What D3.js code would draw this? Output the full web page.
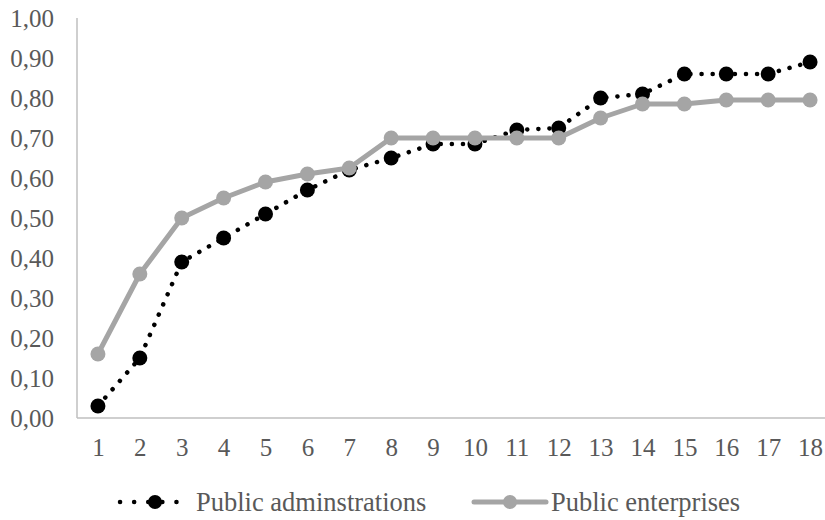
<html>
<head>
  <script src="https://cdnjs.cloudflare.com/ajax/libs/d3/7.8.5/d3.min.js"></script>
  <style>
    body { margin: 0; background: #fff; }
    .axis text { font-family: "Liberation Serif", serif; font-size: 25px; fill: #595959; }
    .axis path { stroke: #bfbfbf; stroke-width: 1.5; }
    .axis line { display: none; }
    .legend text { font-family: "Liberation Serif", serif; font-size: 26.5px; fill: #595959; }
  </style>
</head>
<body>
<div id="chart"></div>
<script>
  // data
  var categories = [1, 2, 3, 4, 5, 6, 7, 8, 9, 10, 11, 12, 13, 14, 15, 16, 17, 18];
  var adminValues = [0.03, 0.15, 0.39, 0.45, 0.51, 0.57, 0.62, 0.65, 0.685, 0.685, 0.72, 0.725, 0.80, 0.81, 0.86, 0.86, 0.86, 0.89];
  var enterpriseValues = [0.16, 0.36, 0.50, 0.55, 0.59, 0.61, 0.625, 0.70, 0.70, 0.70, 0.70, 0.70, 0.75, 0.785, 0.785, 0.795, 0.795, 0.795];
  var yTicks = [0, 0.1, 0.2, 0.3, 0.4, 0.5, 0.6, 0.7, 0.8, 0.9, 1.0];
  var seriesNames = ["Public adminstrations", "Public enterprises"];

  var svgWidth = 825, svgHeight = 520;
  var svg = d3.select("#chart").append("svg")
    .attr("width", svgWidth)
    .attr("height", svgHeight);

  var xScale = d3.scalePoint()
    .domain(categories)
    .range([77, 831])
    .padding(0.5);
  var yScale = d3.scaleLinear()
    .domain([0, 1])
    .range([418, 18]);

  var fmt = function(d) { return d3.format(".2f")(d).replace(".", ","); };

  // y axis
  svg.append("g")
    .attr("class", "axis")
    .attr("transform", "translate(77,0)")
    .call(d3.axisLeft(yScale).tickValues(yTicks).tickFormat(fmt).tickSize(0).tickPadding(23))
    .call(function(g) { g.select(".domain").attr("d", "M0,18V418"); });

  // x axis
  svg.append("g")
    .attr("class", "axis")
    .attr("transform", "translate(0,418)")
    .call(d3.axisBottom(xScale).tickSize(0).tickPadding(20))
    .call(function(g) { g.select(".domain").attr("d", "M77,0H831"); });

  var line = d3.line()
    .x(function(d, i) { return xScale(categories[i]); })
    .y(function(d) { return yScale(d); });

  // public administrations: dotted black
  svg.append("path")
    .datum(adminValues)
    .attr("fill", "none")
    .attr("stroke", "#000")
    .attr("stroke-width", 4.5)
    .attr("stroke-linecap", "round")
    .attr("stroke-dasharray", "0.1 11")
    .attr("d", line);
  svg.selectAll(".dot-admin")
    .data(adminValues)
    .enter().append("circle")
    .attr("class", "dot-admin")
    .attr("r", 7.5)
    .attr("fill", "#000")
    .attr("cx", function(d, i) { return xScale(categories[i]); })
    .attr("cy", function(d) { return yScale(d); });

  // public enterprises: solid gray
  svg.append("path")
    .datum(enterpriseValues)
    .attr("fill", "none")
    .attr("stroke", "#a5a5a5")
    .attr("stroke-width", 5)
    .attr("stroke-linejoin", "round")
    .attr("d", line);
  svg.selectAll(".dot-ent")
    .data(enterpriseValues)
    .enter().append("circle")
    .attr("class", "dot-ent")
    .attr("r", 7.5)
    .attr("fill", "#a5a5a5")
    .attr("cx", function(d, i) { return xScale(categories[i]); })
    .attr("cy", function(d) { return yScale(d); });

  // legend
  var legend = svg.append("g").attr("class", "legend");
  var ly = 502;
  legend.append("line")
    .attr("x1", 120).attr("x2", 180).attr("y1", ly).attr("y2", ly)
    .attr("stroke", "#000").attr("stroke-width", 4.5)
    .attr("stroke-linecap", "round").attr("stroke-dasharray", "0.1 14");
  legend.append("circle").attr("cx", 155).attr("cy", ly).attr("r", 7).attr("fill", "#000");
  legend.append("text").attr("x", 196).attr("y", ly).attr("dy", "0.35em").text(seriesNames[0]);

  legend.append("line")
    .attr("x1", 474).attr("x2", 546).attr("y1", ly).attr("y2", ly)
    .attr("stroke", "#a5a5a5").attr("stroke-width", 5)
    .attr("stroke-linecap", "round");
  legend.append("circle").attr("cx", 510).attr("cy", ly).attr("r", 7).attr("fill", "#a5a5a5");
  legend.append("text").attr("x", 551).attr("y", ly).attr("dy", "0.35em").text(seriesNames[1]);
</script>
</body>
</html>
